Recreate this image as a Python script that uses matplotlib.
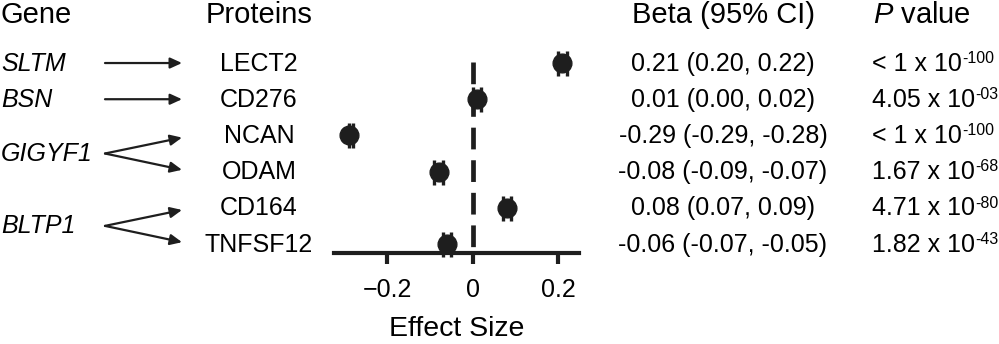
import matplotlib.pyplot as plt
from matplotlib.patches import FancyArrowPatch
from matplotlib.transforms import blended_transform_factory, offset_copy

plt.rcParams['font.family'] = ['Liberation Sans', 'DejaVu Sans']
plt.rcParams['mathtext.fontset'] = 'custom'
plt.rcParams['mathtext.rm'] = 'Liberation Sans'
plt.rcParams['mathtext.it'] = 'Liberation Sans:italic'
plt.rcParams['mathtext.default'] = 'regular'

# gene -> protein associations
genes = ['SLTM', 'BSN', 'GIGYF1', 'BLTP1']
gene_targets = [['LECT2'], ['CD276'], ['NCAN', 'ODAM'], ['CD164', 'TNFSF12']]
proteins = ['LECT2', 'CD276', 'NCAN', 'ODAM', 'CD164', 'TNFSF12']
beta = [0.21, 0.01, -0.29, -0.08, 0.08, -0.06]
ci_low = [0.20, 0.00, -0.29, -0.09, 0.07, -0.07]
ci_high = [0.22, 0.02, -0.28, -0.07, 0.09, -0.05]
p_mant = ['< 1', '4.05', '< 1', '1.67', '4.71', '1.82']
p_exp = ['-100', '-03', '-100', '-68', '-80', '-43']
xticks = [-0.2, 0, 0.2]

W, H = 999, 344
fig = plt.figure(figsize=(W / 100, H / 100), dpi=100)
ax = fig.add_axes([334 / W, 1 - 253 / H, 245 / W, (253 - 57.6) / H])

n = len(proteins)
ypos = [n - i for i in range(n)]
ymap = dict(zip(proteins, ypos))
dark = '#1e1e1e'

# forest plot
xerr = [[b - lo for b, lo in zip(beta, ci_low)],
        [hi - b for b, hi in zip(beta, ci_high)]]
ax.errorbar(beta, ypos, xerr=xerr, fmt='o', color=dark, ms=13.5,
            elinewidth=2, capsize=9, capthick=2.4, clip_on=False, zorder=4)
ax.plot([0, 0], [6.03, 0.751], color=dark, lw=3.4, dashes=(4.6, 2.3),
        solid_capstyle='butt', zorder=2)

ax.set_xlim(-0.3252, 0.2492)
ax.set_ylim(0.751, 6.15)
ax.set_xticks(xticks)
ax.set_xticklabels(['\u22120.2', '0', '0.2'])
ax.set_yticks([])
for s in ['left', 'right', 'top']:
    ax.spines[s].set_visible(False)
ax.spines['bottom'].set_linewidth(3)
ax.spines['bottom'].set_color(dark)
ax.tick_params(axis='x', direction='out', length=8, width=3, color=dark,
               labelsize=18, pad=10)
ax.set_xlabel('Effect Size', fontsize=20.5, labelpad=10)

# text columns share the row positions of the forest plot
tr = blended_transform_factory(fig.transFigure, ax.transData)
hdr_y = 7.11
off = 0.21
fs = 18
hfs = 21
fig_txt = dict(transform=tr, clip_on=False, va='baseline')

ax.text(0.001, hdr_y, 'Gene', fontsize=hfs, ha='left', **fig_txt)
ax.text(259 / W, hdr_y, 'Proteins', fontsize=hfs, ha='center', **fig_txt)
ax.text(723 / W, hdr_y, 'Beta (95% CI)', fontsize=hfs, ha='center', **fig_txt)
ax.text(873 / W, hdr_y, '$\\mathit{P}$ value', fontsize=hfs, ha='left', **fig_txt)

p_base = []
for p, y, b, lo, hi, m in zip(proteins, ypos, beta, ci_low, ci_high, p_mant):
    ax.text(259 / W, y - off, p, fontsize=fs, ha='center', **fig_txt)
    ax.text(723 / W, y - off, f'{b:.2f} ({lo:.2f}, {hi:.2f})', fontsize=fs,
            ha='center', **fig_txt)
    p_base.append(ax.text(872 / W, y - off, f'{m} x 10', fontsize=fs,
                          ha='left', **fig_txt))

# exponents go right after "10", raised and smaller
renderer = fig.canvas.get_renderer()
sup_tr = offset_copy(tr, fig=fig, y=5.6, units='points')
for t, y, e in zip(p_base, ypos, p_exp):
    x1 = t.get_window_extent(renderer).x1 / fig.bbox.width
    ax.text(x1, y - off, e, fontsize=11.5, ha='left', va='baseline',
            transform=sup_tr, clip_on=False)

# gene labels with arrows to their proteins
for g, targets in zip(genes, gene_targets):
    ys = [ymap[t] for t in targets]
    gy = sum(ys) / len(ys)
    ax.text(0.001, gy - off, g, fontsize=fs, style='italic', ha='left', **fig_txt)
    for ty in ys:
        tip = ty if len(ys) == 1 else ty + (0.05 if ty < gy else -0.06)
        arr = FancyArrowPatch((105 / W, gy), (182 / W, tip), transform=tr,
                              arrowstyle='-|>,head_length=0.7,head_width=0.32',
                              mutation_scale=10, lw=1.6, color=dark,
                              shrinkA=0, shrinkB=0, clip_on=False)
        ax.add_patch(arr)

fig.savefig('out.png', dpi=100)
